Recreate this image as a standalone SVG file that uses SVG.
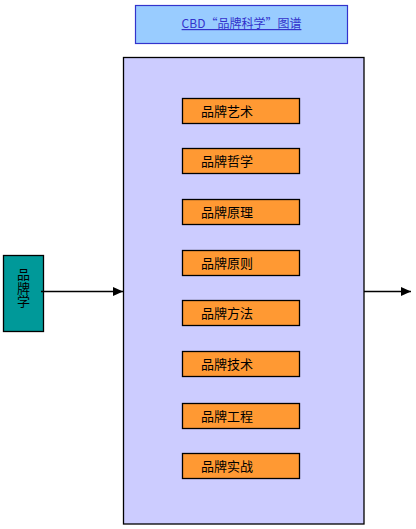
<svg xmlns="http://www.w3.org/2000/svg" width="416" height="529" viewBox="0 0 416 529">
<defs>
<style>
.lbl{font-family:"Noto Sans CJK SC","Liberation Sans",sans-serif;font-size:13px;fill:#000}
.item{fill:#ff9933;stroke:#000;stroke-width:1.3}
.conn{stroke:#000;stroke-width:1.3;fill:none}
</style>
<marker id="arr" markerWidth="10" markerHeight="9" refX="10" refY="4.5" orient="auto" markerUnits="userSpaceOnUse">
<path d="M0,0 L10,4.5 L0,9 Z" fill="#000"/>
</marker>
</defs>
<rect width="416" height="529" fill="#fff"/>
<g id="title">
<rect x="135.5" y="5.5" width="212" height="38" fill="#99ccff" stroke="#3333cc" stroke-width="1.2"/>
<text x="241.5" y="28" text-anchor="middle" style="font-family:'Noto Sans CJK SC','Liberation Sans',sans-serif;font-size:12px;fill:#3333cc;text-decoration:underline">CBD“品牌科学”图谱</text>
</g>
<g id="main">
<rect x="123.5" y="57.5" width="240.5" height="466.5" fill="#ccccff" stroke="#000" stroke-width="1.3"/>
</g>
<g id="left">
<rect x="3.5" y="255.5" width="40" height="76" fill="#009999" stroke="#000" stroke-width="1.3"/>
<text class="lbl" x="23.5" y="268" writing-mode="tb" style="writing-mode:vertical-rl;letter-spacing:0.5px">品牌学</text>
</g>
<g id="connectors">
<line class="conn" x1="41" y1="291.5" x2="123" y2="291.5" marker-end="url(#arr)"/>
<line class="conn" x1="364" y1="291.5" x2="411" y2="291.5" marker-end="url(#arr)"/>
</g>
<g id="n1"><rect class="item" x="182.5" y="98.5" width="117" height="25"/><text class="lbl" x="201" y="116">品牌艺术</text></g>
<g id="n2"><rect class="item" x="182.5" y="148.5" width="117" height="25"/><text class="lbl" x="201" y="166">品牌哲学</text></g>
<g id="n3"><rect class="item" x="182.5" y="199.5" width="117" height="25"/><text class="lbl" x="201" y="217">品牌原理</text></g>
<g id="n4"><rect class="item" x="182.5" y="250.5" width="117" height="25"/><text class="lbl" x="201" y="268">品牌原则</text></g>
<g id="n5"><rect class="item" x="182.5" y="300.5" width="117" height="25"/><text class="lbl" x="201" y="318">品牌方法</text></g>
<g id="n6"><rect class="item" x="182.5" y="351.5" width="117" height="25"/><text class="lbl" x="201" y="369">品牌技术</text></g>
<g id="n7"><rect class="item" x="182.5" y="403.5" width="117" height="25"/><text class="lbl" x="201" y="421">品牌工程</text></g>
<g id="n8"><rect class="item" x="182.5" y="453.5" width="117" height="25"/><text class="lbl" x="201" y="471">品牌实战</text></g>
</svg>
